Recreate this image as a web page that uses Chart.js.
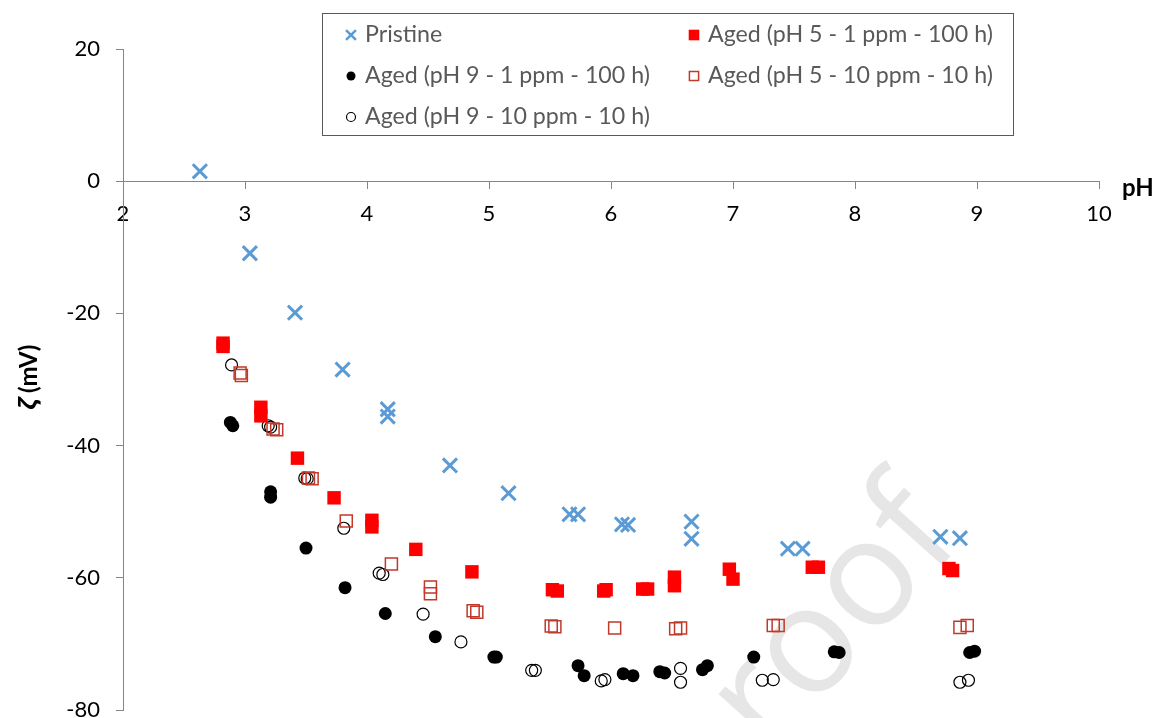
<!DOCTYPE html>
<html>
<head>
<meta charset="utf-8">
<script src="https://cdn.jsdelivr.net/npm/chart.js@4.4.1/dist/chart.umd.min.js"></script>
<style>
  html, body { margin: 0; padding: 0; background: #fff; }
</style>
</head>
<body>
<canvas id="zeta-chart" width="1159" height="718"></canvas>
<script>
// Series labels (legend order, two columns)
const seriesLabels = [
  'Pristine',
  'Aged (pH 5 - 1 ppm - 100 h)',
  'Aged (pH 9 - 1 ppm - 100 h)',
  'Aged (pH 5 - 10 ppm - 10 h)',
  'Aged (pH 9 - 10 ppm - 10 h)',
];

// Pristine
const pristinePH = [2.63, 3.04, 3.41, 3.80, 4.17, 4.17, 4.68, 5.16, 5.66, 5.73, 6.09, 6.14, 6.66, 6.66, 7.45, 7.57, 8.70, 8.86];
const pristineZeta = [1.5, -10.9, -19.9, -28.5, -34.5, -35.6, -43.0, -47.2, -50.4, -50.4, -51.9, -52.0, -51.5, -54.1, -55.6, -55.6, -53.8, -54.0];

// Aged pH 5 - 1 ppm - 100 h
const ph5LowPH = [2.82, 2.82, 3.13, 3.13, 3.43, 3.73, 4.04, 4.04, 4.40, 4.86, 5.52, 5.56, 5.94, 5.96, 6.26, 6.30, 6.52, 6.52, 6.97, 7.00, 7.65, 7.70, 8.77, 8.80];
const ph5LowZeta = [-24.5, -25.0, -34.2, -35.5, -41.9, -47.9, -51.3, -52.3, -55.7, -59.1, -61.8, -62.0, -62.0, -61.8, -61.7, -61.7, -59.9, -61.2, -58.7, -60.2, -58.4, -58.4, -58.6, -58.9];

// Aged pH 9 - 1 ppm - 100 h
const ph9LowPH = [2.88, 2.90, 3.21, 3.21, 3.50, 3.82, 4.15, 4.56, 5.04, 5.06, 5.73, 5.78, 6.10, 6.18, 6.40, 6.44, 6.75, 6.79, 7.17, 7.83, 7.87, 8.94, 8.98];
const ph9LowZeta = [-36.5, -37.0, -47.0, -47.8, -55.5, -61.5, -65.4, -68.9, -72.0, -72.0, -73.3, -74.8, -74.5, -74.8, -74.2, -74.4, -73.9, -73.3, -72.0, -71.2, -71.3, -71.3, -71.1];

// Aged pH 5 - 10 ppm - 10 h
const ph5HighPH = [2.96, 2.97, 3.23, 3.26, 3.52, 3.55, 3.83, 4.20, 4.52, 4.52, 4.87, 4.90, 5.51, 5.54, 6.03, 6.53, 6.57, 7.33, 7.37, 8.86, 8.92];
const ph5HighZeta = [-29.0, -29.4, -37.5, -37.6, -44.9, -45.0, -51.4, -57.9, -61.4, -62.4, -65.0, -65.2, -67.3, -67.4, -67.6, -67.7, -67.6, -67.2, -67.2, -67.5, -67.2];

// Aged pH 9 - 10 ppm - 10 h
const ph9HighPH = [2.89, 3.19, 3.21, 3.49, 3.51, 3.81, 4.10, 4.13, 4.46, 4.77, 5.35, 5.38, 5.92, 5.95, 6.57, 6.57, 7.24, 7.33, 8.86, 8.93];
const ph9HighZeta = [-27.8, -37.0, -37.2, -44.9, -45.0, -52.5, -59.3, -59.5, -65.5, -69.7, -74.0, -74.0, -75.6, -75.4, -73.7, -75.8, -75.5, -75.4, -75.8, -75.5];

// Tick labels
const phTicks = [2, 3, 4, 5, 6, 7, 8, 9, 10];
const zetaTicks = [-80, -60, -40, -20, 0, 20];

const FONT = 'Lato, "Noto Sans", sans-serif';
const AXIS_GREY = '#868686';
const PLOT_BOTTOM = 710;

function toPoints(xs, ys) {
  return xs.map((x, i) => ({ x, y: ys[i] }));
}

// Drop label overflow padding so the plot area keeps its fixed box
function noPadding(scale) {
  scale.paddingTop = 0;
  scale.paddingBottom = 0;
  scale.paddingLeft = 0;
  scale.paddingRight = 0;
}

// Stretch the plot area down to the same bottom edge as the original figure
const plotBoxPlugin = {
  id: 'plotBox',
  afterLayout(chart) {
    const y = chart.scales.y;
    y.bottom = PLOT_BOTTOM;
    y.height = y.bottom - y.top;
    y.configure();
    chart.chartArea.bottom = PLOT_BOTTOM;
    chart.chartArea.height = PLOT_BOTTOM - chart.chartArea.top;
  },
};

// Legend, axis titles and the faint watermark
const decorPlugin = {
  id: 'decor',
  beforeDatasetsDraw(chart) {
    const ctx = chart.ctx;
    ctx.save();
    ctx.translate(965, 540);
    ctx.rotate(-48 * Math.PI / 180);
    ctx.font = '150px "Open Sans", sans-serif';
    ctx.fillStyle = '#e6e6e6';
    ctx.textAlign = 'right';
    ctx.textBaseline = 'alphabetic';
    ctx.fillText('proof', 0, 0);
    ctx.restore();
  },
  afterDraw(chart) {
    const ctx = chart.ctx;

    // y title
    ctx.save();
    ctx.translate(29, 377);
    ctx.rotate(-Math.PI / 2);
    ctx.textBaseline = 'middle';
    ctx.fillStyle = '#000';
    ctx.font = 'italic bold 24px "Noto Sans", sans-serif';
    const w1 = ctx.measureText('ζ').width;
    ctx.font = 'bold 24px ' + FONT;
    const w2 = ctx.measureText(' (mV)').width;
    ctx.textAlign = 'left';
    ctx.font = 'italic bold 24px "Noto Sans", sans-serif';
    ctx.fillText('ζ', -(w1 + w2) / 2, 0);
    ctx.font = 'bold 24px ' + FONT;
    ctx.fillText(' (mV)', -(w1 + w2) / 2 + w1, 0);
    ctx.restore();

    // x title
    ctx.save();
    ctx.font = 'bold 24px ' + FONT;
    ctx.fillStyle = '#000';
    ctx.textAlign = 'left';
    ctx.textBaseline = 'middle';
    ctx.fillText('pH', 1122, 188);
    ctx.restore();

    // legend box
    ctx.save();
    ctx.strokeStyle = '#595959';
    ctx.lineWidth = 1;
    ctx.strokeRect(322.5, 13.5, 691, 122);
    ctx.font = '23px ' + FONT;
    const target = 285;
    const size = 23 * target / ctx.measureText(seriesLabels[1]).width;
    ctx.font = size.toFixed(1) + 'px ' + FONT;
    ctx.fillStyle = '#595959';
    ctx.textBaseline = 'middle';
    ctx.textAlign = 'left';
    const colX = [351, 694];
    const rowY = [35, 76, 117];
    const legendRadius = [7, 7.5, 4.5, 6.5, 4.5];
    chart.data.datasets.forEach((ds, i) => {
      const mx = colX[i % 2];
      const my = rowY[Math.floor(i / 2)];
      ctx.save();
      ctx.fillStyle = ds.backgroundColor;
      ctx.strokeStyle = ds.borderColor;
      ctx.lineWidth = Math.min(ds.borderWidth, 2.5);
      Chart.helpers.drawPoint(ctx, {
        pointStyle: ds.pointStyle,
        radius: legendRadius[i],
        rotation: 0,
        borderWidth: ds.borderWidth,
      }, mx, my);
      ctx.restore();
      ctx.fillText(ds.label, mx + 14, my);
    });
    ctx.restore();
  },
};

const ctx = document.getElementById('zeta-chart').getContext('2d');
const zetaChart = new Chart(ctx, {
  type: 'scatter',
  data: {
    datasets: [
      {
        label: seriesLabels[0],
        data: toPoints(pristinePH, pristineZeta),
        pointStyle: 'crossRot',
        radius: 10,
        borderWidth: 3,
        borderColor: '#5b9bd5',
        backgroundColor: '#5b9bd5',
      },
      {
        label: seriesLabels[1],
        data: toPoints(ph5LowPH, ph5LowZeta),
        pointStyle: 'rect',
        radius: 9.5,
        borderWidth: 0,
        borderColor: '#ff0000',
        backgroundColor: '#ff0000',
      },
      {
        label: seriesLabels[2],
        data: toPoints(ph9LowPH, ph9LowZeta),
        pointStyle: 'circle',
        radius: 6.5,
        borderWidth: 0,
        borderColor: '#000000',
        backgroundColor: '#000000',
      },
      {
        label: seriesLabels[3],
        data: toPoints(ph5HighPH, ph5HighZeta),
        pointStyle: 'rect',
        radius: 8.5,
        borderWidth: 1.5,
        borderColor: '#c0392b',
        backgroundColor: 'rgba(0,0,0,0)',
      },
      {
        label: seriesLabels[4],
        data: toPoints(ph9HighPH, ph9HighZeta),
        pointStyle: 'circle',
        radius: 6,
        borderWidth: 1.2,
        borderColor: '#000000',
        backgroundColor: 'rgba(0,0,0,0)',
      },
    ],
  },
  options: {
    responsive: false,
    animation: false,
    devicePixelRatio: 1,
    layout: { padding: { top: 49, right: 60, bottom: 8, left: 0 } },
    plugins: {
      legend: { display: false },
      tooltip: { enabled: false },
    },
    elements: { point: { hoverRadius: 0 } },
    scales: {
      x: {
        type: 'linear',
        position: { y: 0 },
        min: 2,
        max: 10,
        afterBuildTicks: (scale) => { scale.ticks = phTicks.map((v) => ({ value: v })); },
        afterFit: noPadding,
        grid: { drawOnChartArea: false, drawTicks: true, tickLength: 7, color: AXIS_GREY },
        border: { display: true, color: AXIS_GREY, width: 1 },
        ticks: { color: '#000', padding: 13, font: { family: FONT, size: 22 }, maxRotation: 0 },
      },
      y: {
        type: 'linear',
        min: -80,
        max: 20,
        afterBuildTicks: (scale) => { scale.ticks = zetaTicks.map((v) => ({ value: v })); },
        afterFit: (scale) => {
          scale.width = 123;
          noPadding(scale);
        },
        grid: { drawOnChartArea: false, drawTicks: true, tickLength: 7, color: AXIS_GREY },
        border: { display: true, color: AXIS_GREY, width: 1 },
        ticks: { color: '#000', padding: 16, font: { family: FONT, size: 22 } },
      },
    },
  },
  plugins: [plotBoxPlugin, decorPlugin],
});
</script>
</body>
</html>
